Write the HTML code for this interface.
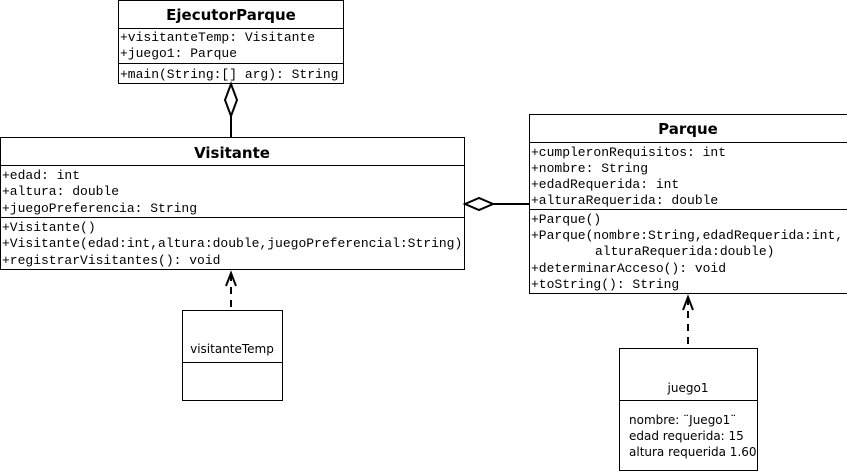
<!DOCTYPE html>
<html><head><meta charset="utf-8"><style>
html,body{margin:0;padding:0;background:#fff;width:847px;height:472px;overflow:hidden}
.m{font-family:"Liberation Mono","Courier New",Courier,monospace;font-size:13px;fill:#000}
.t{font-family:"DejaVu Sans","Liberation Sans",sans-serif;font-weight:bold;font-size:15px;fill:#000}
.s{font-family:"DejaVu Sans","Liberation Sans",sans-serif;font-size:12px;fill:#000}
</style></head><body>
<svg width="847" height="472" viewBox="0 0 847 472" xmlns="http://www.w3.org/2000/svg">
<g fill="#fff" stroke="#000" stroke-width="1">
<rect x="118.5" y="0.5" width="225" height="83"/>
<line x1="118" y1="28.5" x2="344" y2="28.5"/>
<line x1="118" y1="63.5" x2="344" y2="63.5"/>
<rect x="0.5" y="137.5" width="464" height="132"/>
<line x1="0" y1="165.5" x2="465" y2="165.5"/>
<line x1="0" y1="217.5" x2="465" y2="217.5"/>
<rect x="529.5" y="114.5" width="318" height="179"/>
<line x1="529" y1="142.5" x2="847" y2="142.5"/>
<line x1="529" y1="209.5" x2="847" y2="209.5"/>
<rect x="182.5" y="310.5" width="100" height="90"/>
<line x1="182" y1="362.5" x2="283" y2="362.5"/>
<rect x="619.5" y="348.5" width="138" height="122"/>
<line x1="619" y1="400.5" x2="758" y2="400.5"/>
</g>
<text class="t" x="231" y="20" text-anchor="middle">EjecutorParque</text>
<text class="m" x="120" y="41">+visitanteTemp: Visitante</text>
<text class="m" x="120" y="57">+juego1: Parque</text>
<text class="m" x="120" y="78">+main(String:[] arg): String</text>
<text class="t" x="232" y="158" text-anchor="middle">Visitante</text>
<text class="m" x="2" y="179">+edad: int</text>
<text class="m" x="2" y="195">+altura: double</text>
<text class="m" x="2" y="212">+juegoPreferencia: String</text>
<text class="m" x="2" y="231">+Visitante()</text>
<text class="m" x="2" y="247">+Visitante(edad:int,altura:double,juegoPreferencial:String)</text>
<text class="m" x="2" y="264">+registrarVisitantes(): void</text>
<text class="t" x="688" y="134" text-anchor="middle">Parque</text>
<text class="m" x="531" y="156">+cumpleronRequisitos: int</text>
<text class="m" x="531" y="172">+nombre: String</text>
<text class="m" x="531" y="188">+edadRequerida: int</text>
<text class="m" x="531" y="204">+alturaRequerida: double</text>
<text class="m" x="531" y="223">+Parque()</text>
<text class="m" x="531" y="239">+Parque(nombre:String,edadRequerida:int,</text>
<text class="m" x="595" y="255">alturaRequerida:double)</text>
<text class="m" x="531" y="272">+determinarAcceso(): void</text>
<text class="m" x="531" y="288">+toString(): String</text>
<text class="s" x="232" y="353" text-anchor="middle">visitanteTemp</text>
<text class="s" x="688" y="392" text-anchor="middle">juego1</text>
<text class="s" x="629" y="424">nombre: ¨Juego1¨</text>
<text class="s" x="629" y="440">edad requerida: 15</text>
<text class="s" x="629" y="456">altura requerida 1.60</text>
<g fill="none" stroke="#000" stroke-width="2">
<polygon points="231,84 237,100 231,116 225,100" fill="#fff"/>
<line x1="231" y1="116" x2="231" y2="137"/>
<polygon points="465,204 479,198 493,204 479,210" fill="#fff"/>
<line x1="493" y1="204" x2="529" y2="204"/>
<line x1="231" y1="274" x2="231" y2="310" stroke-dasharray="7,6"/>
<polyline points="226,286 231,273 236,286"/>
<line x1="688" y1="298" x2="688" y2="348" stroke-dasharray="7,6"/>
<polyline points="683,310 688,297 693,310"/>
</g>
</svg>
</body></html>
